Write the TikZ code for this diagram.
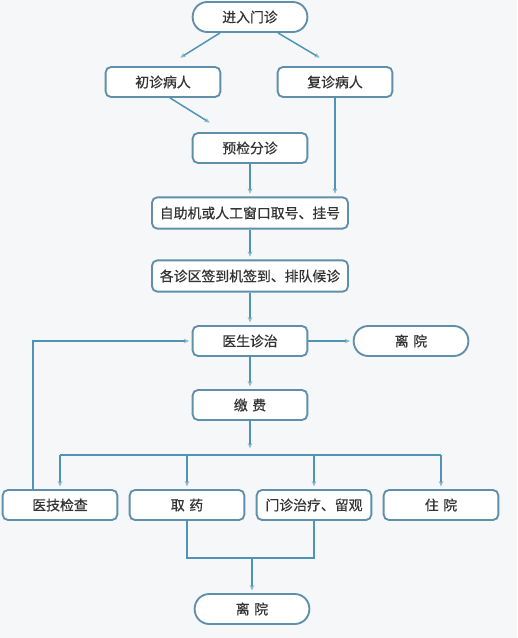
\documentclass[tikz,border=0pt]{standalone}
\usepackage{fontspec}
\newfontfamily\cjk{Noto Sans CJK SC}[FakeBold=0.6]
\usetikzlibrary{arrows.meta}
\definecolor{linecol}{HTML}{4F93B6}
\definecolor{boxcol}{HTML}{5F8FAA}
\definecolor{tipcol}{HTML}{8FB9CF}
\definecolor{bgcol}{HTML}{F5F7F8}
\definecolor{textcol}{HTML}{333333}
\tikzset{
  box/.style={draw=boxcol, line width=1.4pt, rounded corners=4pt, fill=white,
    minimum width=86pt, minimum height=22.5pt, inner sep=0pt,
    font=\cjk\fontsize{10.4}{12}\selectfont, text=textcol},
  widebox/.style={box, minimum width=147pt, minimum height=23.5pt},
  endbox/.style={box, rounded corners=11pt},
  line/.style={draw=linecol, line width=1.1pt},
  link/.style={line, -{Stealth[length=4pt,width=3.5pt,color=tipcol]}, shorten >=2pt}
}
\begin{document}
\begin{tikzpicture}[x=0.75pt, y=-0.75pt]
    \fill[bgcol] (0,0) rectangle (517,638);
    \useasboundingbox (0,0) rectangle (517,638);
    % nodes
    \node[endbox] (enter) at (250,17) {进入门诊};
    \node[box] (first) at (163,82) {初诊病人};
    \node[box] (revisit) at (335,82) {复诊病人};
    \node[box] (triage) at (250,148) {预检分诊};
    \node[widebox] (selfreg) at (250,213) {自助机或人工窗口取号、挂号};
    \node[widebox] (checkin) at (250,276) {各诊区签到机签到、排队候诊};
    \node[box] (doctor) at (250,341) {医生诊治};
    \node[endbox] (leaveA) at (411,341) {离\,\,院};
    \node[box] (pay) at (250,405) {缴\,\,费};
    \node[box] (exam) at (60,505) {医技检查};
    \node[box] (drug) at (187,505) {取\,\,药};
    \node[box] (obs) at (314,505) {门诊治疗、留观};
    \node[box] (inpat) at (441,505) {住\,\,院};
    \node[endbox] (leaveB) at (252,609) {离\,\,院};
    \coordinate (bus) at (250,455);
    \coordinate (join) at (252,558);
    % connectors
    \draw[link] ([shift={(-30,0)}]enter.south) -- ([shift={(15,-7)}]first.north);
    \draw[link] ([shift={(28,0)}]enter.south) -- ([shift={(-13,-7)}]revisit.north);
    \draw[link] ([shift={(7,0)}]first.south) -- ([shift={(-38,-8)}]triage.north);
    \draw[link] (revisit.south) -- (revisit.south |- selfreg.north);
    \draw[link] (triage) -- (selfreg);
    \draw[link] (selfreg) -- (checkin);
    \draw[link] (checkin) -- (doctor);
    \draw[link] (doctor) -- (pay);
    \draw[link] (doctor) -- (leaveA);
    \draw[link, shorten >=5pt] (pay) -- (bus);
    \draw[line] (exam |- bus) -- (inpat |- bus);
    \foreach \n in {exam,drug,obs,inpat}
        \draw[link] (\n |- bus) -- (\n.north);
    \draw[link] ([shift={(-27,0)}]exam.north) |- (doctor.west);
    \draw[line] (drug.south) |- (join) -| (obs.south);
    \draw[link] (join) -- (leaveB);
\end{tikzpicture}
\end{document}
